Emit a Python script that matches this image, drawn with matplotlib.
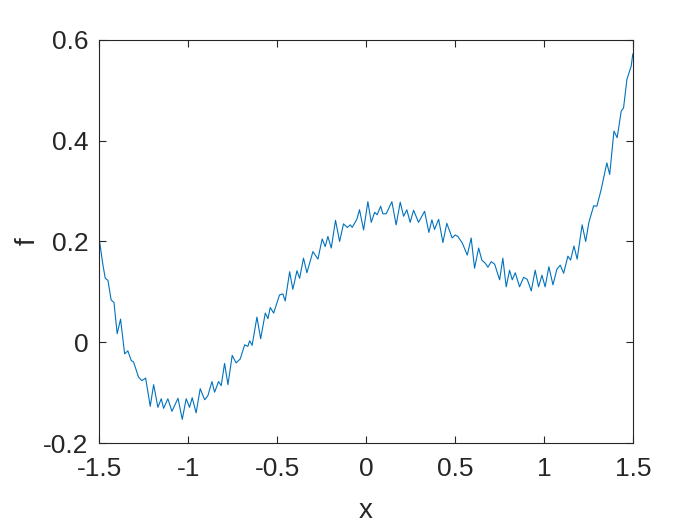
# ==========================
# Import Libraries
# ==========================

import matplotlib.pyplot as plt

# ==========================
# Data
# ==========================

x_values = [
    -1.500, -1.480, -1.467, -1.452, -1.434, -1.418, -1.400, -1.381, -1.358, -1.340,
    -1.321, -1.308, -1.280, -1.261, -1.240, -1.214, -1.195, -1.171, -1.152, -1.139,
    -1.115, -1.092, -1.058, -1.034, -1.012, -0.993, -0.978, -0.956, -0.933, -0.908,
    -0.890, -0.867, -0.852, -0.830, -0.815, -0.796, -0.777, -0.753, -0.731, -0.708,
    -0.683, -0.665, -0.655, -0.641, -0.614, -0.593, -0.567, -0.552, -0.539, -0.520,
    -0.487, -0.468, -0.455, -0.430, -0.412, -0.389, -0.374, -0.352, -0.333, -0.299,
    -0.271, -0.247, -0.230, -0.215, -0.196, -0.172, -0.149, -0.127, -0.106, -0.089,
    -0.078, -0.052, -0.037, -0.014, 0.010, 0.029, 0.048, 0.062, 0.082, 0.094,
    0.113, 0.145, 0.169, 0.192, 0.211, 0.229, 0.248, 0.267, 0.295, 0.329,
    0.353, 0.370, 0.385, 0.408, 0.432, 0.454, 0.484, 0.501, 0.516, 0.541,
    0.569, 0.591, 0.610, 0.633, 0.651, 0.670, 0.685, 0.704, 0.723, 0.751,
    0.769, 0.788, 0.807, 0.822, 0.839, 0.863, 0.886, 0.906, 0.929, 0.951,
    0.970, 0.989, 1.007, 1.028, 1.051, 1.073, 1.092, 1.111, 1.135, 1.150,
    1.169, 1.187, 1.215, 1.235, 1.253, 1.280, 1.298, 1.322, 1.354, 1.370,
    1.394, 1.412, 1.435, 1.448, 1.467, 1.491, 1.500,
]

f_values = [
    0.203, 0.153, 0.127, 0.123, 0.084, 0.079, 0.017, 0.046, -0.023, -0.017,
    -0.036, -0.039, -0.069, -0.076, -0.071, -0.127, -0.084, -0.129, -0.112, -0.131,
    -0.112, -0.137, -0.111, -0.153, -0.112, -0.129, -0.110, -0.140, -0.092, -0.114,
    -0.106, -0.078, -0.099, -0.078, -0.086, -0.042, -0.084, -0.026, -0.041, -0.033,
    -0.005, -0.008, 0.003, -0.006, 0.050, 0.007, 0.058, 0.047, 0.069, 0.058,
    0.094, 0.096, 0.082, 0.140, 0.105, 0.142, 0.127, 0.167, 0.138, 0.180,
    0.165, 0.205, 0.190, 0.210, 0.187, 0.242, 0.200, 0.235, 0.228, 0.233,
    0.228, 0.244, 0.263, 0.223, 0.279, 0.238, 0.258, 0.253, 0.270, 0.255,
    0.255, 0.279, 0.233, 0.278, 0.250, 0.263, 0.238, 0.262, 0.238, 0.260,
    0.218, 0.243, 0.224, 0.244, 0.198, 0.236, 0.207, 0.213, 0.210, 0.197,
    0.173, 0.207, 0.147, 0.187, 0.163, 0.157, 0.149, 0.160, 0.155, 0.124,
    0.167, 0.110, 0.143, 0.124, 0.138, 0.110, 0.129, 0.125, 0.102, 0.143,
    0.110, 0.133, 0.110, 0.150, 0.114, 0.145, 0.153, 0.137, 0.171, 0.163,
    0.191, 0.165, 0.233, 0.200, 0.238, 0.271, 0.270, 0.303, 0.356, 0.333,
    0.419, 0.406, 0.459, 0.465, 0.522, 0.548, 0.572,
]

x_ticks = [-1.5, -1, -0.5, 0, 0.5, 1, 1.5]
x_tick_labels = ["-1.5", "-1", "-0.5", "0", "0.5", "1", "1.5"]
y_ticks = [-0.2, 0, 0.2, 0.4, 0.6]
y_tick_labels = ["-0.2", "0", "0.2", "0.4", "0.6"]

# ==========================
# Plot
# ==========================

plt.rcParams["font.family"] = ["Liberation Sans", "DejaVu Sans"]

fig = plt.figure(figsize=(7, 5.25), dpi=100)
ax = fig.add_axes([0.142, 0.156, 0.762, 0.768])

ax.plot(x_values, f_values, color="#0072BD", linewidth=0.8)

ax.set_xlim(-1.5, 1.5)
ax.set_ylim(-0.2, 0.6)

ax.set_xticks(x_ticks)
ax.set_xticklabels(x_tick_labels)
ax.set_yticks(y_ticks)
ax.set_yticklabels(y_tick_labels)

ax.tick_params(axis="both", direction="in", top=True, right=True, length=5,
               width=0.8, labelsize=19, colors="#262626")
ax.tick_params(axis="x", pad=10)
ax.tick_params(axis="y", pad=8)

for spine in ax.spines.values():
    spine.set_color("#262626")
    spine.set_linewidth(0.8)

ax.set_xlabel("x", fontsize=20, color="#262626", labelpad=12)
ax.set_ylabel("f", fontsize=20, color="#262626", labelpad=2)

plt.savefig("out.png", dpi=100)
